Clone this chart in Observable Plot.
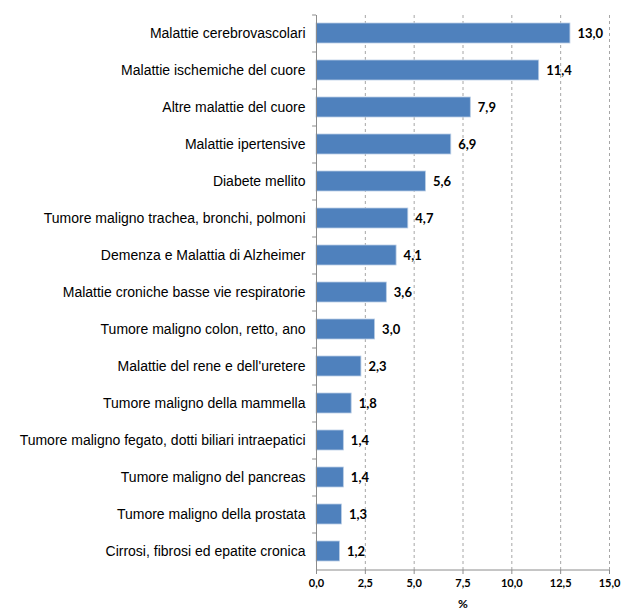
<!DOCTYPE html>
<html><head><meta charset="utf-8">
<script src="https://cdn.jsdelivr.net/npm/d3@7"></script>
<script src="https://cdn.jsdelivr.net/npm/@observablehq/plot@0.6"></script>
<style>body{margin:0;background:#fff}</style>
</head><body><div id="chart"></div>
<script>
const categories = [
  "Malattie cerebrovascolari",
  "Malattie ischemiche del cuore",
  "Altre malattie del cuore",
  "Malattie ipertensive",
  "Diabete mellito",
  "Tumore maligno trachea, bronchi, polmoni",
  "Demenza e Malattia di Alzheimer",
  "Malattie croniche basse vie respiratorie",
  "Tumore maligno colon, retto, ano",
  "Malattie del rene e dell'uretere",
  "Tumore maligno della mammella",
  "Tumore maligno fegato, dotti biliari intraepatici",
  "Tumore maligno del pancreas",
  "Tumore maligno della prostata",
  "Cirrosi, fibrosi ed epatite cronica"
];
const values = [13.0, 11.4, 7.9, 6.9, 5.6, 4.7, 4.1, 3.6, 3.0, 2.3, 1.8, 1.4, 1.4, 1.3, 1.2];
const xTicks = [0, 2.5, 5, 7.5, 10, 12.5, 15];
const xLabel = "%";

const data = categories.map((c, i) => ({cat: c, v: values[i]}));
const fmt = v => v.toFixed(1).replace(".", ",");
const W = 626, H = 610, mT = 15, mB = 40;
const step = (H - mT - mB) / categories.length;

const chart = Plot.plot({
  width: W, height: H,
  marginLeft: 316, marginRight: 17, marginTop: mT, marginBottom: mB,
  style: {fontFamily: "'Liberation Sans Narrow', 'Arial Narrow', sans-serif", background: "#fff"},
  x: {domain: [0, 15], ticks: xTicks, tickFormat: fmt, label: null},
  y: {domain: categories, paddingInner: 0.45, paddingOuter: 0.225, label: null},
  marks: [
    Plot.gridX(xTicks.filter(t => t > 0), {stroke: "#a6a6a6", strokeOpacity: 1, strokeDasharray: "3,3"}),
    Plot.barX(data, {x: "v", y: "cat", fill: "#4f81bd", stroke: "#b9cde5", strokeWidth: 0.8}),
    Plot.text(data, {x: "v", y: "cat", text: d => fmt(d.v), textAnchor: "start", dx: 7, fontFamily: "Lato, sans-serif", fontWeight: "bold", fontSize: 13, fill: "#000"}),
    Plot.ruleX([0], {stroke: "#8c8c8c"}),
    Plot.ruleY([categories[categories.length - 1]], {y: d => d, x1: 0, x2: 15, dy: step / 2, stroke: "#8c8c8c"}),
    Plot.ruleY(categories, {y: d => d, x1: -0.2, x2: 0, dy: -step / 2, stroke: "#8c8c8c"}),
    Plot.axisY({tickSize: 0, tickPadding: 11, fontSize: 14, fill: "#000"}),
    Plot.axisX({ticks: xTicks, tickFormat: fmt, tickSize: 4, tickPadding: 5, stroke: "#8c8c8c", fontFamily: "Lato, sans-serif", fontWeight: "bold", fontSize: 11, fill: "#000", label: null}),
    Plot.text([xLabel], {frameAnchor: "bottom", dy: 37, x: 7.5, text: d => d, fontFamily: "Lato, sans-serif", fontWeight: "bold", fontSize: 12, fill: "#000"})
  ]
});
document.getElementById("chart").appendChild(chart);
</script></body></html>
